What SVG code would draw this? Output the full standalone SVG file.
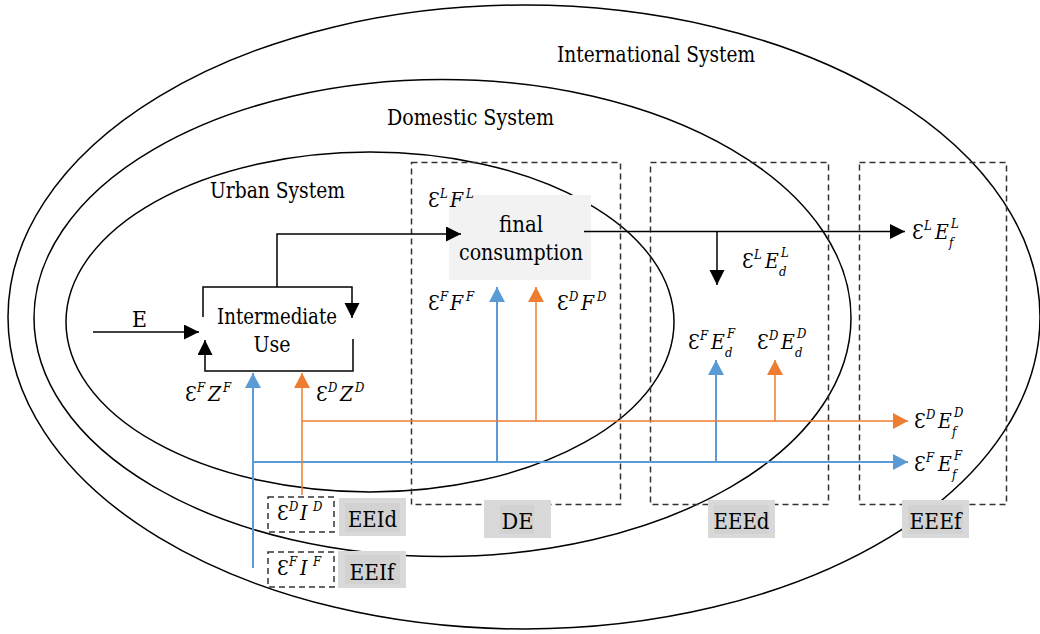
<svg xmlns="http://www.w3.org/2000/svg" width="1040" height="634" viewBox="0 0 1040 634">
<style>
.t{font-family:'DejaVu Serif Condensed','DejaVu Serif',serif;font-stretch:condensed;font-size:22px;fill:#000}
.m{font-family:'DejaVu Serif Condensed','DejaVu Serif',serif;font-stretch:condensed;font-size:21px;fill:#000}
.v{font-style:italic}
.s{font-size:13px;font-style:italic}
.ell{fill:none;stroke:#000;stroke-width:1.5}
.dash{fill:none;stroke:#333;stroke-width:1.5;stroke-dasharray:6 4}
.lab{fill:#d9d9d9}
.labi{fill:#d2d2d2}
.k{fill:none;stroke:#000;stroke-width:1.5}
.b{fill:none;stroke:#5b9bd5;stroke-width:2}
.o{fill:none;stroke:#ed7d31;stroke-width:1.5}
</style>
<defs>
<marker id="ak" markerUnits="userSpaceOnUse" markerWidth="16" markerHeight="16" refX="15" refY="7.5" orient="auto"><path d="M0,0 L15,7.5 L0,15 z" fill="#000"/></marker>
<marker id="ab" markerUnits="userSpaceOnUse" markerWidth="16" markerHeight="17" refX="15" refY="8" orient="auto"><path d="M0,0 L15,8 L0,16 z" fill="#5b9bd5"/></marker>
<marker id="ao" markerUnits="userSpaceOnUse" markerWidth="16" markerHeight="17" refX="15" refY="8" orient="auto"><path d="M0,0 L15,8 L0,16 z" fill="#ed7d31"/></marker>
</defs>
<rect width="1040" height="634" fill="#fff"/>
<g id="international-system">
<ellipse class="ell" cx="524" cy="317" rx="516" ry="312"/>
<text class="t" x="557" y="62" textLength="198" lengthAdjust="spacingAndGlyphs">International System</text>
</g>
<g id="domestic-system">
<ellipse class="ell" cx="442.5" cy="318" rx="408.5" ry="238.5"/>
<text class="t" x="387" y="125" textLength="167" lengthAdjust="spacingAndGlyphs">Domestic System</text>
</g>
<g id="urban-system">
<ellipse class="ell" cx="370" cy="322" rx="304" ry="170"/>
<text class="t" x="210" y="198" textLength="135" lengthAdjust="spacingAndGlyphs">Urban System</text>
</g>
<g id="DE">
<rect class="dash" x="411.5" y="162.5" width="209" height="342"/>
<rect class="lab" x="484" y="500" width="67" height="38"/>
<rect class="labi" x="500" y="505" width="34" height="29"/>
<text class="t" x="501.5" y="529" textLength="32" lengthAdjust="spacingAndGlyphs">DE</text>
</g>
<g id="EEEd">
<rect class="dash" x="650.5" y="162.5" width="178" height="342"/>
<rect class="lab" x="708" y="500" width="67" height="38"/>
<rect class="labi" x="714" y="505" width="55" height="29"/>
<text class="t" x="713.5" y="529" textLength="56" lengthAdjust="spacingAndGlyphs">EEEd</text>
</g>
<g id="EEEf">
<rect class="dash" x="859.5" y="162.5" width="147" height="342"/>
<rect class="lab" x="902" y="500" width="67" height="38"/>
<rect class="labi" x="908" y="505" width="55" height="29"/>
<text class="t" x="909.5" y="529" textLength="52" lengthAdjust="spacingAndGlyphs">EEEf</text>
</g>
<g id="EEId">
<rect class="dash" x="268" y="497" width="66" height="35"/>
<text class="m"><tspan x="277" y="520">Ɛ</tspan><tspan class="s" x="289" y="511">D</tspan><tspan class="v" x="300" y="520">I</tspan><tspan class="s" x="313" y="511">D</tspan></text>
<rect class="lab" x="339" y="498" width="67" height="38"/>
<rect class="labi" x="345" y="503" width="55" height="29"/>
<text class="t" x="348" y="527" textLength="49" lengthAdjust="spacingAndGlyphs">EEId</text>
</g>
<g id="EEIf">
<rect class="dash" x="268" y="552" width="66" height="35"/>
<text class="m"><tspan x="277" y="575">Ɛ</tspan><tspan class="s" x="289" y="566">F</tspan><tspan class="v" x="300" y="575">I</tspan><tspan class="s" x="313" y="566">F</tspan></text>
<rect class="lab" x="338" y="551" width="68" height="37"/>
<rect class="labi" x="345" y="555" width="55" height="29"/>
<text class="t" x="349.5" y="580" textLength="45" lengthAdjust="spacingAndGlyphs">EEIf</text>
</g>
<g id="final-consumption">
<rect x="449" y="195" width="142" height="85" fill="#f2f2f2"/>
<text class="t" x="499" y="232" textLength="44" lengthAdjust="spacingAndGlyphs">final</text>
<text class="t" x="459" y="260" textLength="124" lengthAdjust="spacingAndGlyphs">consumption</text>
</g>
<g id="intermediate-use">
<text class="t" x="217" y="324" textLength="120" lengthAdjust="spacingAndGlyphs">Intermediate</text>
<text class="t" x="253.5" y="352" textLength="37" lengthAdjust="spacingAndGlyphs">Use</text>
</g>
<g id="connectors">
<path class="k" d="M203,317 V287 H352 V318" marker-end="url(#ak)"/>
<path class="k" d="M353,339 V371 H205 V340" marker-end="url(#ak)"/>
<path class="k" d="M93,332 H199" marker-end="url(#ak)"/>
<path class="k" d="M277,287 V234 H461" marker-end="url(#ak)"/>
<path class="k" d="M584,231.5 H905" marker-end="url(#ak)"/>
<path class="k" d="M717,231.5 V285" marker-end="url(#ak)"/>
<path class="b" d="M253,568 V373" marker-end="url(#ab)"/>
<path class="b" d="M253,462 H908" marker-end="url(#ab)"/>
<path class="b" d="M497,462 V287" marker-end="url(#ab)"/>
<path class="b" d="M716,462 V360" marker-end="url(#ab)"/>
<path class="o" d="M302,495 V373" marker-end="url(#ao)"/>
<path class="o" d="M302,421 H908" marker-end="url(#ao)"/>
<path class="o" d="M536,421 V287" marker-end="url(#ao)"/>
<path class="o" d="M775,421 V360" marker-end="url(#ao)"/>
</g>
<g id="labels">
<text class="t" x="132" y="327" textLength="15" lengthAdjust="spacingAndGlyphs">E</text>
<text class="m"><tspan x="428" y="207">Ɛ</tspan><tspan class="s" x="440" y="198">L</tspan><tspan class="v" x="450" y="207">F</tspan><tspan class="s" x="466" y="198">L</tspan></text>
<text class="m"><tspan x="428" y="310">Ɛ</tspan><tspan class="s" x="440" y="301">F</tspan><tspan class="v" x="450" y="310">F</tspan><tspan class="s" x="466" y="301">F</tspan></text>
<text class="m"><tspan x="557" y="310">Ɛ</tspan><tspan class="s" x="569" y="301">D</tspan><tspan class="v" x="581" y="310">F</tspan><tspan class="s" x="597" y="301">D</tspan></text>
<text class="m"><tspan x="185" y="401">Ɛ</tspan><tspan class="s" x="197" y="392">F</tspan><tspan class="v" x="208" y="401">Z</tspan><tspan class="s" x="223" y="392">F</tspan></text>
<text class="m"><tspan x="316" y="401">Ɛ</tspan><tspan class="s" x="328" y="392">D</tspan><tspan class="v" x="340" y="401">Z</tspan><tspan class="s" x="355" y="392">D</tspan></text>
<text class="m"><tspan x="742" y="268">Ɛ</tspan><tspan class="s" x="754" y="259">L</tspan><tspan class="v" x="765" y="268">E</tspan><tspan class="s" x="781" y="257">L</tspan><tspan class="s" x="779" y="276">d</tspan></text>
<text class="m"><tspan x="688" y="349">Ɛ</tspan><tspan class="s" x="700" y="340">F</tspan><tspan class="v" x="711" y="349">E</tspan><tspan class="s" x="727" y="338">F</tspan><tspan class="s" x="725" y="357">d</tspan></text>
<text class="m"><tspan x="757" y="349">Ɛ</tspan><tspan class="s" x="769" y="340">D</tspan><tspan class="v" x="781" y="349">E</tspan><tspan class="s" x="797" y="338">D</tspan><tspan class="s" x="795" y="357">d</tspan></text>
<text class="m"><tspan x="912" y="239">Ɛ</tspan><tspan class="s" x="924" y="230">L</tspan><tspan class="v" x="935" y="239">E</tspan><tspan class="s" x="951" y="228">L</tspan><tspan class="s" x="949" y="247">f</tspan></text>
<text class="m"><tspan x="914" y="428">Ɛ</tspan><tspan class="s" x="926" y="419">D</tspan><tspan class="v" x="938" y="428">E</tspan><tspan class="s" x="954" y="417">D</tspan><tspan class="s" x="952" y="436">f</tspan></text>
<text class="m"><tspan x="914" y="471">Ɛ</tspan><tspan class="s" x="926" y="462">F</tspan><tspan class="v" x="938" y="471">E</tspan><tspan class="s" x="954" y="460">F</tspan><tspan class="s" x="952" y="479">f</tspan></text>
</g>
</svg>
